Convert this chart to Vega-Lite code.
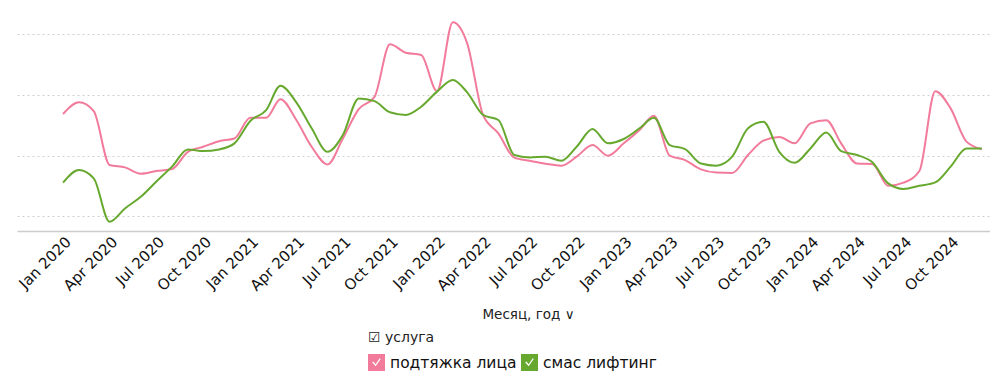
{
  "$schema": "https://vega.github.io/schema/vega-lite/v6.json",
  "autosize": "none",
  "width": 973,
  "height": 211,
  "padding": {"left": 17, "top": 20, "right": 0, "bottom": 149},
  "background": "white",
  "config": {
    "font": "DejaVu Sans",
    "view": {"stroke": null}
  },
  "data": {
    "values": [
      {"m": "2020-01-01T00:00:00", "p": 67.2, "g": 38.9},
      {"m": "2020-02-01T00:00:00", "p": 72.0, "g": 44.1},
      {"m": "2020-03-01T00:00:00", "p": 68.4, "g": 40.7},
      {"m": "2020-04-01T00:00:00", "p": 46.2, "g": 22.8},
      {"m": "2020-05-01T00:00:00", "p": 45.2, "g": 28.3},
      {"m": "2020-06-01T00:00:00", "p": 42.6, "g": 33.1},
      {"m": "2020-07-01T00:00:00", "p": 43.7, "g": 39.3},
      {"m": "2020-08-01T00:00:00", "p": 44.5, "g": 45.5},
      {"m": "2020-09-01T00:00:00", "p": 51.6, "g": 52.6},
      {"m": "2020-10-01T00:00:00", "p": 53.7, "g": 51.9},
      {"m": "2020-11-01T00:00:00", "p": 56.0, "g": 52.6},
      {"m": "2020-12-01T00:00:00", "p": 57.1, "g": 55.1},
      {"m": "2021-01-01T00:00:00", "p": 65.6, "g": 64.3},
      {"m": "2021-02-01T00:00:00", "p": 65.6, "g": 68.8},
      {"m": "2021-03-01T00:00:00", "p": 73.3, "g": 78.8},
      {"m": "2021-04-01T00:00:00", "p": 64.7, "g": 72.0},
      {"m": "2021-05-01T00:00:00", "p": 53.7, "g": 61.3},
      {"m": "2021-06-01T00:00:00", "p": 46.4, "g": 51.6},
      {"m": "2021-07-01T00:00:00", "p": 57.1, "g": 58.5},
      {"m": "2021-08-01T00:00:00", "p": 69.2, "g": 73.6},
      {"m": "2021-09-01T00:00:00", "p": 74.3, "g": 72.5},
      {"m": "2021-10-01T00:00:00", "p": 95.9, "g": 67.9},
      {"m": "2021-11-01T00:00:00", "p": 92.4, "g": 66.8},
      {"m": "2021-12-01T00:00:00", "p": 91.5, "g": 70.2},
      {"m": "2022-01-01T00:00:00", "p": 76.6, "g": 76.4},
      {"m": "2022-02-01T00:00:00", "p": 105.0, "g": 81.2},
      {"m": "2022-03-01T00:00:00", "p": 96.3, "g": 76.1},
      {"m": "2022-04-01T00:00:00", "p": 66.8, "g": 66.8},
      {"m": "2022-05-01T00:00:00", "p": 59.2, "g": 64.7},
      {"m": "2022-06-01T00:00:00", "p": 49.2, "g": 50.3},
      {"m": "2022-07-01T00:00:00", "p": 47.9, "g": 49.3},
      {"m": "2022-08-01T00:00:00", "p": 46.7, "g": 49.6},
      {"m": "2022-09-01T00:00:00", "p": 45.9, "g": 47.9},
      {"m": "2022-10-01T00:00:00", "p": 49.6, "g": 53.7},
      {"m": "2022-11-01T00:00:00", "p": 54.4, "g": 61.0},
      {"m": "2022-12-01T00:00:00", "p": 50.0, "g": 55.1},
      {"m": "2023-01-01T00:00:00", "p": 55.1, "g": 56.9},
      {"m": "2023-02-01T00:00:00", "p": 60.6, "g": 61.3},
      {"m": "2023-03-01T00:00:00", "p": 66.5, "g": 65.6},
      {"m": "2023-04-01T00:00:00", "p": 50.0, "g": 54.4},
      {"m": "2023-05-01T00:00:00", "p": 48.2, "g": 52.7},
      {"m": "2023-06-01T00:00:00", "p": 44.4, "g": 46.8},
      {"m": "2023-07-01T00:00:00", "p": 43.1, "g": 45.9},
      {"m": "2023-08-01T00:00:00", "p": 42.9, "g": 49.6},
      {"m": "2023-09-01T00:00:00", "p": 50.3, "g": 61.3},
      {"m": "2023-10-01T00:00:00", "p": 56.2, "g": 64.0},
      {"m": "2023-11-01T00:00:00", "p": 57.7, "g": 51.6},
      {"m": "2023-12-01T00:00:00", "p": 55.1, "g": 47.1},
      {"m": "2024-01-01T00:00:00", "p": 63.3, "g": 53.0},
      {"m": "2024-02-01T00:00:00", "p": 64.6, "g": 59.6},
      {"m": "2024-03-01T00:00:00", "p": 55.1, "g": 51.9},
      {"m": "2024-04-01T00:00:00", "p": 46.8, "g": 50.3},
      {"m": "2024-05-01T00:00:00", "p": 46.6, "g": 47.3},
      {"m": "2024-06-01T00:00:00", "p": 37.6, "g": 38.6},
      {"m": "2024-07-01T00:00:00", "p": 38.9, "g": 36.3},
      {"m": "2024-08-01T00:00:00", "p": 43.7, "g": 37.6},
      {"m": "2024-09-01T00:00:00", "p": 76.6, "g": 39.0},
      {"m": "2024-10-01T00:00:00", "p": 69.5, "g": 45.5},
      {"m": "2024-11-01T00:00:00", "p": 55.8, "g": 53.0},
      {"m": "2024-12-01T00:00:00", "p": 52.7, "g": 53.0}
    ]
  },
  "transform": [
    {"fold": ["p", "g"], "as": ["k", "v"]},
    {"lookup": "k", "from": {"data": {"values": [{"k": "p", "s": "подтяжка лица"}, {"k": "g", "s": "смас лифтинг"}]}, "key": "k", "fields": ["s"]}}
  ],
  "mark": {"type": "line", "interpolate": "monotone", "strokeWidth": 2},
  "encoding": {
    "x": {
      "field": "m",
      "type": "temporal",
      "scale": {"domain": [{"year": 2019, "month": 10, "date": 3}, {"year": 2024, "month": 12, "date": 17}]},
      "axis": {
        "title": "Месяц, год ∨",
        "titleFont": "DejaVu Sans",
        "titleFontSize": 13.5,
        "titleFontWeight": "normal",
        "titleColor": "#222",
        "titleX": 511,
        "titleY": 83,
        "titleBaseline": "middle",
        "titleAnchor": "middle",
        "format": "%b %Y",
        "tickCount": {"interval": "month", "step": 3},
        "labelAngle": -45,
        "labelFontSize": 15,
        "labelColor": "#111",
        "labelPadding": 3,
        "labelDx": -6,
        "ticks": false,
        "grid": false,
        "domainColor": "#cccccc",
        "domainWidth": 1.5,
        "labelOverlap": false
      }
    },
    "y": {
      "field": "v",
      "type": "quantitative",
      "scale": {"domain": [19, 105.9], "nice": false, "zero": false},
      "axis": {
        "title": null,
        "labels": false,
        "ticks": false,
        "domain": false,
        "values": [25, 50, 75, 100],
        "gridColor": "#cfcfcf",
        "gridDash": [2, 3],
        "gridWidth": 1
      }
    },
    "color": {
      "field": "s",
      "type": "nominal",
      "scale": {"domain": ["подтяжка лица", "смас лифтинг"], "range": ["#f27b9b", "#67a92f"]},
      "legend": {
        "title": "☑ услуга",
        "orient": "none",
        "legendX": 351,
        "legendY": 311,
        "direction": "horizontal",
        "titleFontSize": 14,
        "titleFontWeight": "normal",
        "titleColor": "#222",
        "titlePadding": 9,
        "labelFontSize": 15.5,
        "labelColor": "#111",
        "labelOffset": 5,
        "columnPadding": 4,
        "symbolSize": 289,
        "symbolType": "M-1,-1H1V1H-1Z M-0.5,0 L-0.1,0.45 L0.5,-0.4 L0.38,-0.5 L-0.1,0.2 L-0.38,-0.12 Z",
        "symbolStrokeWidth": 0,
        "encode": {
          "symbols": {"update": {"fill": {"scale": "color", "field": "value"}, "strokeWidth": {"value": 0}, "opacity": {"value": 1}}}
        }
      }
    }
  }
}
